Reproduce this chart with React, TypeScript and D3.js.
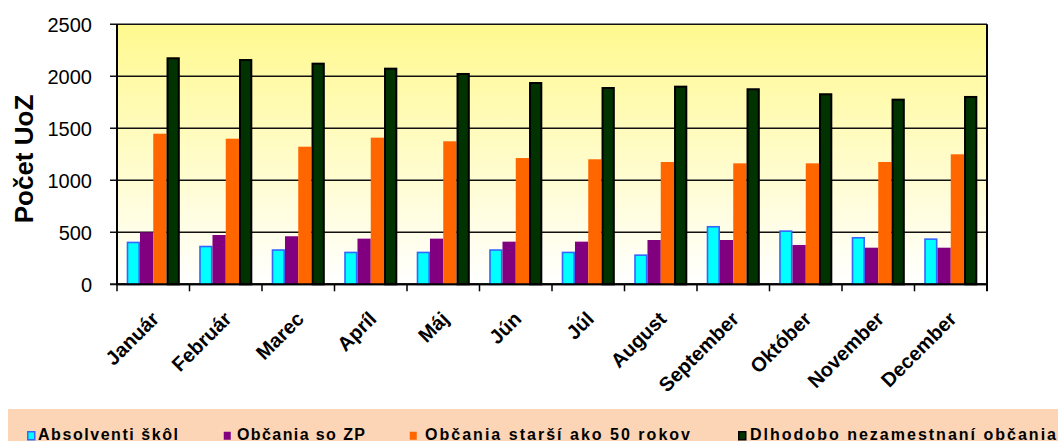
import React from "react";
import * as d3 from "d3";

const months = ["Január", "Február", "Marec", "Apríl", "Máj", "Jún", "Júl", "August", "September", "Október", "November", "December"];
const seriesNames = ["Absolventi škôl", "Občania so ZP", "Občania starší ako 50 rokov", "Dlhodobo nezamestnaní občania"];
const absolventi = [410, 371, 337, 314, 314, 337, 314, 288, 561, 519, 455, 442];
const obcaniaZP = [500, 474, 462, 439, 439, 410, 410, 426, 426, 378, 352, 352];
const starsi50 = [1448, 1400, 1323, 1410, 1375, 1214, 1202, 1176, 1163, 1163, 1176, 1250];
const dlhodobo = [2183, 2166, 2131, 2083, 2032, 1945, 1897, 1910, 1885, 1837, 1785, 1811];
const yTicks = [0, 500, 1000, 1500, 2000, 2500];

const fills = ["#00FFFF", "#800080", "#FF6600", "#003300"];
const strokes = ["#3366FF", "none", "none", "#000000"];
const strokeW = [1.6, 0, 0, 2];

const FONT = "'Liberation Sans', Arial, Helvetica, sans-serif";

export default function App() {
  const W = 1058, H = 441;
  const left = 117, right = 987, top = 24.3, bottom = 284.3;
  const x = d3.scaleBand<string>().domain(months).range([left, right]).paddingInner(0).paddingOuter(0);
  const y = d3.scaleLinear().domain([0, 2500]).range([bottom, top]);
  const series = [absolventi, obcaniaZP, starsi50, dlhodobo];
  const bw = x.bandwidth();
  const inner = d3.scaleBand<number>().domain([0, 1, 2, 3]).range([0, bw]).paddingOuter(0.73).paddingInner(0);

  const legendX = [27, 223, 409, 738];
  const legendTextX = [38, 237, 425, 750];
  const legendTextLen = [140, 128, 265, 306];

  return (
    <svg width={W} height={H} style={{ position: "absolute", left: 0, top: 0, background: "#fff" }} fontFamily={FONT}>
      <defs>
        <linearGradient id="bg" x1="0" y1="0" x2="0" y2="1">
          <stop offset="0" stopColor="#FFF98F" />
          <stop offset="1" stopColor="#FFFFFF" />
        </linearGradient>
      </defs>
      <rect x={left} y={top} width={right - left} height={bottom - top} fill="url(#bg)" />
      {yTicks.map((t) => (
        <g key={t}>
          <line x1={left - 7} x2={right} y1={y(t)} y2={y(t)} stroke="#111" strokeWidth={t === 0 ? 2 : 1.5} />
          <text x={92} y={y(t)} dy="0.36em" textAnchor="end" fontSize={20} fill="#000">{t}</text>
        </g>
      ))}
      <line x1={left} x2={left} y1={top} y2={bottom} stroke="#000" strokeWidth={2} />
      <line x1={right} x2={right} y1={top} y2={bottom + 7} stroke="#000" strokeWidth={2} />
      {months.map((m, i) => (
        <g key={m}>
          <line x1={x(m)!} x2={x(m)!} y1={bottom} y2={bottom + 7} stroke="#000" strokeWidth={1.5} />
          {series.map((s, k) => {
            const bx = x(m)! + inner(k)!;
            const ib = inner.bandwidth();
            const sw = strokeW[k];
            return (
              <rect key={k} x={bx + sw / 2} y={y(s[i]) + sw / 2} width={ib - sw} height={bottom - y(s[i]) - sw / 2}
                fill={fills[k]} stroke={strokes[k]} strokeWidth={sw} />
            );
          })}
          <text transform={`translate(${x(m)! + bw / 2 - 3},${bottom + 26}) rotate(-45)`} textAnchor="end"
            fontSize={20} fontWeight="bold" fill="#000" dy="0.7em">{m}</text>
        </g>
      ))}
      <line x1={left} x2={right} y1={bottom} y2={bottom} stroke="#000" strokeWidth={2} />
      <text transform={`translate(33,159) rotate(-90)`} textAnchor="middle" fontSize={26} fontWeight="bold" fill="#000">Počet UoZ</text>
      <rect x={8} y={409} width={1060} height={40} fill="#FBD5B5" />
      {seriesNames.map((n, k) => (
        <g key={n}>
          <rect x={legendX[k] + 0.75} y={431.75} width={7} height={8} fill={fills[k]} stroke={k === 0 ? "#3366FF" : "#000"} strokeWidth={k === 0 || k === 3 ? 1.5 : 0} />
          <text x={legendTextX[k]} y={440} fontSize={16} fontWeight="bold" fill="#000" textLength={legendTextLen[k]} lengthAdjust="spacing">{n}</text>
        </g>
      ))}
    </svg>
  );
}
